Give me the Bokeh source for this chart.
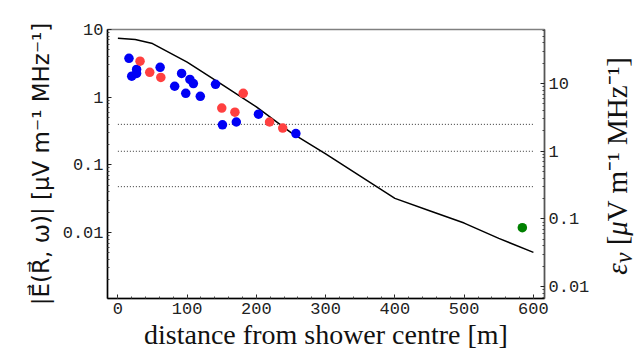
from bokeh.plotting import figure
from bokeh.models import Range1d, LogScale, LogAxis, FixedTicker, Div
from bokeh.layouts import row
from bokeh.embed import file_html
from bokeh.resources import INLINE

# ---- data ----
curve_dist = [0, 25, 50, 100, 150, 200, 250, 300, 350, 400, 450, 500, 550, 600]
curve_field = [7.4, 7.1, 6.2, 3.3, 1.55, 0.72, 0.30, 0.145, 0.068, 0.032, 0.021, 0.0138, 0.0082, 0.0051]

blue_dist = [16, 20, 27, 27, 61, 82, 92, 98, 104, 109, 119, 141, 151, 171, 203, 257]
blue_field = [3.75, 2.04, 2.57, 2.24, 2.76, 1.45, 2.24, 1.14, 1.83, 1.59, 1.03, 1.55, 0.39, 0.43, 0.56, 0.29]

red_dist = [32, 46, 62, 150, 169, 181, 219, 238]
red_field = [3.4, 2.33, 1.96, 0.69, 0.60, 1.14, 0.43, 0.35]

green_dist = [584]
green_field = [0.0118]

# detection thresholds in epsilon units (right axis)
threshold_eps = [2.5, 1.0, 0.3]
threshold_from = [0, 0, 0]
threshold_to = [600, 600, 600]

x_ticks = [0, 100, 200, 300, 400, 500, 600]
y_ticks = [0.01, 0.1, 1, 10]
y_tick_labels = ["0.01", "0.1", "1", "10"]

left_label = "|E\u20d7(R\u20d7, \u03c9)| [\u03bcV m\u207b\u00b9 MHz\u207b\u00b9]"
right_label_html = ("<i>\u03b5</i><sub><i>\u03bd</i></sub> [<i>\u03bc</i>V m\u207b\u00b9 MHz\u207b\u00b9]")
x_label = "distance from shower centre [m]"

# ---- figure ----
p = figure(width=598, height=352, x_range=Range1d(-15, 616), y_range=Range1d(0.00106, 10),
           y_axis_type="log", output_backend="svg", toolbar_location=None,
           min_border_left=107, min_border_right=54, min_border_top=29, min_border_bottom=53)
p.extra_y_ranges = {"eps": Range1d(0.00668, 63)}
p.extra_y_scales = {"eps": LogScale()}

p.xgrid.visible = False
p.ygrid.visible = False
p.outline_line_color = "#808080"
p.outline_line_width = 1.5
p.background_fill_color = "white"
p.border_fill_color = "white"

def minor_log(lo_exp, hi_exp):
    out = []
    for e in range(lo_exp, hi_exp):
        for m in range(2, 10):
            out.append(m * 10.0 ** e)
    return out

tick_font = "Liberation Mono"
label_font = "Liberation Serif"

ya = p.yaxis[0]
ya.ticker = FixedTicker(ticks=y_ticks, minor_ticks=minor_log(-3, 1))
ya.major_label_overrides = {t: s for t, s in zip(y_ticks, y_tick_labels)}

ra = LogAxis(y_range_name="eps")
ra.ticker = FixedTicker(ticks=y_ticks, minor_ticks=minor_log(-3, 2))
ra.major_label_overrides = {t: s for t, s in zip(y_ticks, y_tick_labels)}
p.add_layout(ra, "right")

xa = p.xaxis[0]
xa.ticker = FixedTicker(ticks=x_ticks, minor_ticks=list(range(0, 620, 20)))

for ax in (xa, ya, ra):
    ax.major_tick_in = 4
    ax.major_tick_out = 0
    ax.minor_tick_in = 2
    ax.minor_tick_out = 0
    ax.major_label_text_font = tick_font
    ax.major_label_text_font_size = "17px"
    ax.major_label_text_color = "#222222"
    ax.axis_label_text_font = label_font
    ax.axis_label_text_font_style = "normal"
    ax.axis_label_text_color = "#111111"
    ax.axis_line_width = 1.5
    ax.major_tick_line_color = "#222222"
    ax.minor_tick_line_color = "#444444"

xa.axis_label = x_label
xa.axis_label_text_font_size = "28px"
xa.axis_label_standoff = 2
xa.major_label_standoff = 4
xa.axis_line_color = "black"

ya.axis_label = left_label
ya.axis_label_text_font = "DejaVu Sans"
ya.axis_label_text_font_size = "23px"
ya.axis_label_standoff = 6
ya.major_label_standoff = 4
ya.axis_line_color = "black"

ra.major_label_standoff = 4
ra.axis_line_color = "#555555"

p.segment(x0=threshold_from, x1=threshold_to, y0=threshold_eps, y1=threshold_eps,
          y_range_name="eps", line_color="#333333", line_width=1, line_dash="1 2")

p.line(curve_dist, curve_field, line_color="black", line_width=1.5)

p.scatter(blue_dist, blue_field, size=9.5, fill_color="#0000f5", line_color=None)
p.scatter(red_dist, red_field, size=9.5, fill_color="#ff4040", line_color=None)
p.scatter(green_dist, green_field, size=9.5, fill_color="#008000", line_color=None)

# right-hand axis title (reads bottom to top)
div = Div(width=42, height=352, margin=0,
          text=('<div style="width:42px;height:332px;display:flex;align-items:center;'
                'justify-content:center;background:white;">'
                '<span style="writing-mode:vertical-rl;transform:rotate(180deg);white-space:nowrap;'
                'font-family:\'Liberation Serif\';font-size:29px;color:#111111;">'
                + right_label_html + '</span></div>'))

layout = row(p, div)
open("out.html", "w").write(file_html(layout, INLINE))
